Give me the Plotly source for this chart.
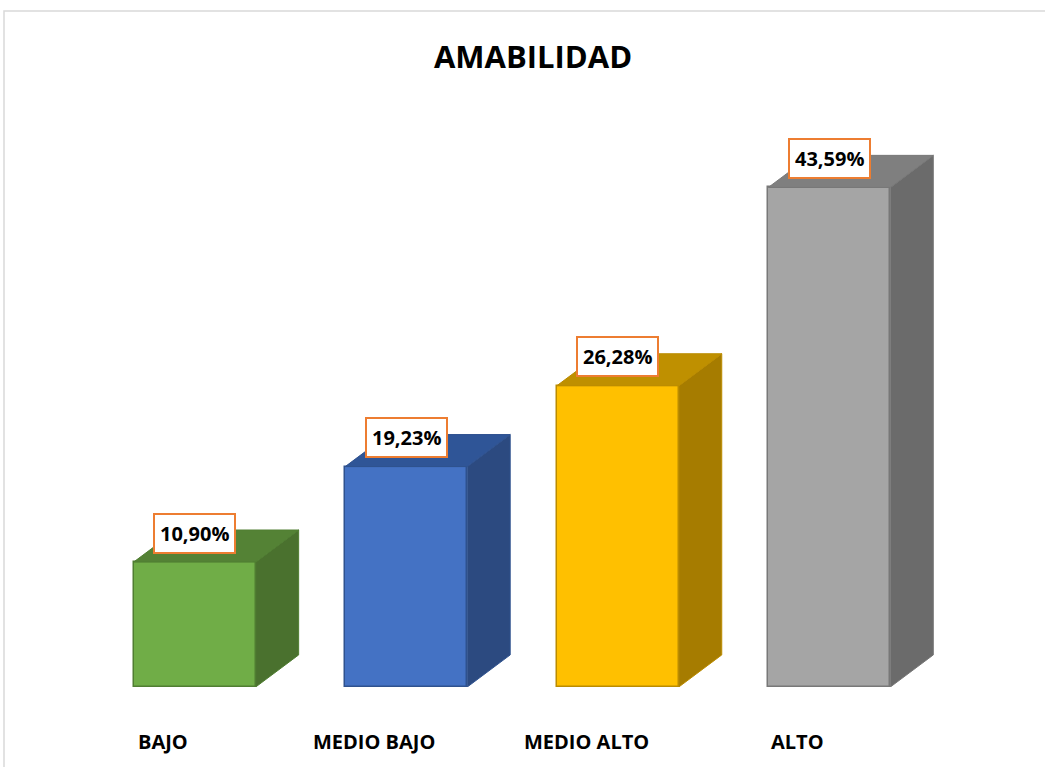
import plotly.graph_objects as go

categories = ["BAJO", "MEDIO BAJO", "MEDIO ALTO", "ALTO"]
values = [10.90, 19.23, 26.28, 43.59]
labels = ["10,90%", "19,23%", "26,28%", "43,59%"]
front_colors = ["#70AD47", "#4472C4", "#FFC000", "#A5A5A5"]
top_colors = ["#548235", "#2F5597", "#BF9000", "#7F7F7F"]
side_colors = ["#4A712E", "#2C4A80", "#A67C00", "#6B6B6B"]
edge_colors = ["#507E32", "#2F528F", "#BC8C00", "#787878"]

W, H = 1045, 767
ML, MR, MT = 36, 57, 114
MB = H - 687
XR = [-0.75, 3.75]
YR = [0, 50]
bar_w = 0.577
dx, dy = 0.203, 2.8
FONT = "Open Sans"

fig = go.Figure()
xs = list(range(len(categories)))

for i, v in enumerate(values):
    x0, x1 = i - bar_w / 2, i + bar_w / 2
    # side face
    fig.add_trace(go.Scatter(
        x=[x1, x1 + dx, x1 + dx, x1, x1], y=[0, dy, v + dy, v, 0],
        fill="toself", fillcolor=side_colors[i], mode="lines",
        line=dict(color=edge_colors[i], width=1), hoverinfo="skip", showlegend=False))
    # top face
    fig.add_trace(go.Scatter(
        x=[x0, x0 + dx, x1 + dx, x1, x0], y=[v, v + dy, v + dy, v, v],
        fill="toself", fillcolor=top_colors[i], mode="lines",
        line=dict(color=edge_colors[i], width=1), hoverinfo="skip", showlegend=False))

fig.add_trace(go.Bar(
    x=xs, y=values, width=bar_w,
    marker=dict(color=front_colors, line=dict(color=edge_colors, width=1.5)),
    hoverinfo="skip", showlegend=False))

for i, v in enumerate(values):
    fig.add_annotation(x=i, y=v, xref="x", yref="y", text=f"<b>{labels[i]}</b>",
                       showarrow=False, yshift=29,
                       font=dict(family=FONT, size=20, color="black"),
                       bgcolor="white", bordercolor="#ED7D31", borderwidth=2, borderpad=5)
    fig.add_annotation(x=i - 0.15, y=0, xref="x", yref="y", text=f"<b>{categories[i]}</b>",
                       showarrow=False, yshift=-54,
                       font=dict(family=FONT, size=20, color="black"))

pw = W - ML - MR
ph = H - MT - MB
base_px = H - MB
fig.add_shape(type="rect", xref="paper", yref="paper",
              x0=(4 - ML) / pw, x1=(W + 20 - ML) / pw,
              y0=-(H + 20 - base_px) / ph, y1=(base_px - 11) / ph,
              line=dict(color="#D9D9D9", width=1.5), fillcolor="rgba(0,0,0,0)", layer="below")

fig.update_layout(
    width=W, height=H,
    margin=dict(l=ML, r=MR, t=MT, b=MB),
    paper_bgcolor="white", plot_bgcolor="white",
    title=dict(text="<b>AMABILIDAD</b>", x=533 / W, xanchor="center",
               y=1 - 57 / H, yanchor="middle",
               font=dict(family=FONT, size=31, color="black")),
    xaxis=dict(range=XR, visible=False, fixedrange=True),
    yaxis=dict(range=YR, visible=False, fixedrange=True),
    bargap=0,
)

fig.write_html("out.html", config={"displayModeBar": False},
               post_script="document.body.style.margin='0px';document.body.style.overflow='hidden';")
